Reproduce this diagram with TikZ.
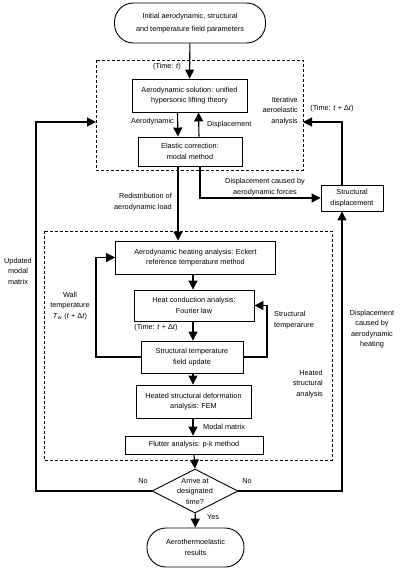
\documentclass[tikz,border=0pt]{standalone}
\usepackage{fontspec}
\setmainfont{Liberation Sans}
\usetikzlibrary{arrows.meta,shapes.geometric}

\begin{document}
\begin{tikzpicture}[x=1pt, y=-1pt, font=\fontsize{7.3}{10.5}\selectfont,
  every node/.style={inner sep=0pt, align=center},
  conn/.style={line width=1.1pt, -{Triangle[length=9pt, width=9pt]}}]
\useasboundingbox (0,0) rectangle (400,570);

\coordinate (NW1) at (96,60);
\coordinate (SE1) at (303,170);
\coordinate (NW2) at (44,231);
\coordinate (SE2) at (332,460);
\draw[dashed, line width=0.8pt, dash pattern=on 3pt off 2pt] (NW1) rectangle (SE1);
\draw[dashed, line width=0.8pt, dash pattern=on 3pt off 2pt] (NW2) rectangle (SE2);

\coordinate (In1) at (96,122);
\coordinate (In1r) at (303,122);
\coordinate (leftx) at (36,0);
\coordinate (rightx) at (342,0);
\coordinate (wallx) at (96,0);
\coordinate (tempx) at (267,0);

\begin{scope}[every node/.style={draw, line width=0.9pt, rounded corners=19pt, inner sep=0pt, align=center, minimum height=40pt}]
\node[minimum width=151pt] (init) at (190,23) {Initial aerodynamic, structural\\[2pt] and temperature field parameters};
\node[minimum width=97pt, minimum height=39pt] (res) at (195.5,547.5) {Aerothermoelastic\\results};
\end{scope}

\begin{scope}[every node/.style={draw, line width=0.9pt, inner sep=0pt, align=center}]
\node[minimum width=115pt, minimum height=33pt] (aero) at (189.5,95.5) {Aerodynamic solution: unified\\hypersonic lifting theory};
\node[minimum width=104pt, minimum height=29pt] (elas) at (190,151.5) {Elastic correction:\\modal method};
\node[minimum width=62pt, minimum height=26pt] (sdisp) at (352,198) {Structural\\displacement};
\node[minimum width=160pt, minimum height=33pt] (heat) at (195.5,257.5) {Aerodynamic heating analysis: Eckert\\reference temperature method};
\node[minimum width=120pt, minimum height=31pt] (cond) at (194,305.5) {Heat conduction analysis:\\Fourier law};
\node[minimum width=102pt, minimum height=32pt] (stemp) at (192,357) {Structural temperature\\field update};
\node[minimum width=115pt, minimum height=33pt] (hdef) at (193.5,401.5) {Heated structural deformation\\analysis: FEM};
\node[minimum width=138pt, minimum height=18pt] (flut) at (194,445) {Flutter analysis: p-k method};
\node[shape=diamond, aspect=1.95, inner sep=-3pt, minimum width=86pt, minimum height=44pt] (dec) at (195,491) {Arrive at\\designated\\time?};
\end{scope}

% connectors
\draw[conn] (init) -- (aero);
\draw[conn] ([xshift=-12pt]aero.south) -- ([xshift=-12pt]elas.north);
\draw[conn] ([xshift=9pt]elas.north) -- ([xshift=9pt]aero.south);
\draw[conn] ([xshift=-12pt]elas.south) -- (heat.north -| 178,0);
\draw[conn] ([xshift=10pt]elas.south) |- (sdisp.west);
\draw[conn] (sdisp.north -| rightx) |- (In1r);
\draw[conn] (heat.south -| 193,0) -- (cond.north -| 193,0);
\draw[conn] (cond.south -| 193,0) -- (stemp.north -| 193,0);
\draw[conn] (stemp.west) -- (stemp.west -| wallx) |- (heat.west);
\draw[conn] (stemp.east) -- (stemp.east -| tempx) |- (cond.east);
\draw[conn] (stemp.south -| 193,0) -- (hdef.north -| 193,0);
\draw[conn] (hdef.south -| 193,0) -- (flut.north -| 193,0);
\draw[conn] (flut.south -| 194,0) -- (dec.north);
\draw[conn] (dec.west) -- (dec.west -| leftx) |- (In1);
\draw[conn] (dec.east) -- (dec.east -| rightx) -- (sdisp.south -| rightx);
\draw[conn] (dec) -- (res);

% labels
\node (tt) at (167,67) {(Time: \textit{t})};
\node[anchor=east] (lad) at (174,122) {Aerodynamic};
\node[anchor=west] (ldi) at (207,125) {Displacement};
\node[align=right, anchor=east] (lit) at (298,111) {Iterative\\aeroelastic\\analysis};
\node (tdt) at (332,109) {(Time: \textit{t} + Δ\textit{t})};
\node (ldf) at (265,187) {Displacement caused by\\aerodynamic forces};
\node[align=right, anchor=east] (lre) at (172,202) {Redistribution of\\aerodynamic load};
\node (lum) at (18,271) {Updated\\modal\\matrix};
\node (lwt) at (70,306) {Wall\\temperature\\\textit{T}\textsubscript{\textit{w}} (\textit{t} + Δ\textit{t})};
\node (tdt2) at (156,328) {(Time: \textit{t} + Δ\textit{t})};
\node[align=left, anchor=west] (lst) at (274,320) {Structural\\temperarure};
\node (ldh) at (372,329) {Displacement\\caused by\\aerodynamic\\heating};
\node[align=right, anchor=east] (lhs) at (323,384) {Heated\\structural\\analysis};
\node[anchor=west] (lmm) at (203,427) {Modal matrix};
\node (no1) at (143,481) {No};
\node (no2) at (247,481) {No};
\node (yes) at (213,517) {Yes};
\end{tikzpicture}
\end{document}
